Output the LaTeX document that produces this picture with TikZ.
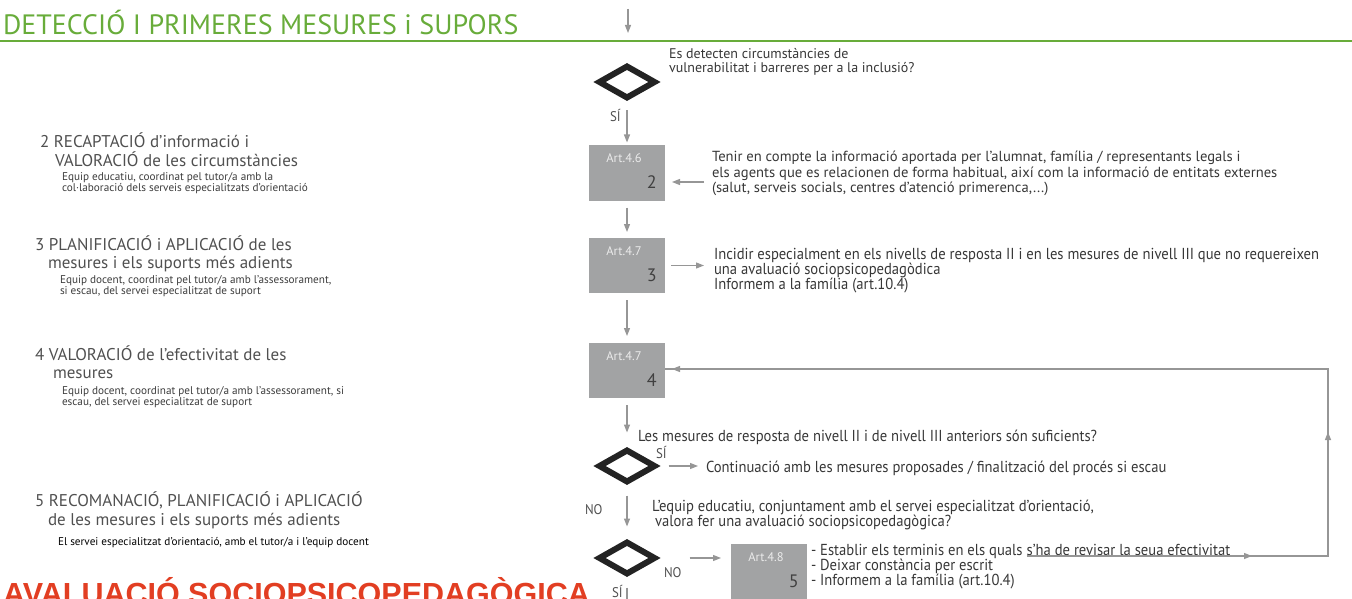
\documentclass[tikz,border=0pt]{standalone}
\usepackage{fontspec}
\setmainfont{PT Sans}
\newfontfamily\condf[FakeStretch=0.92]{PT Sans}
\newfontfamily\redf{Liberation Sans}
\usetikzlibrary{arrows.meta,shapes.geometric,calc}
\definecolor{grn}{RGB}{104,172,58}
\definecolor{redt}{RGB}{226,62,34}
\definecolor{boxgray}{RGB}{162,163,164}
\definecolor{arrgray}{RGB}{150,150,150}
\definecolor{headgray}{RGB}{80,80,80}
\definecolor{smgray}{RGB}{60,60,60}
\definecolor{bodygray}{RGB}{55,55,55}
\definecolor{dia}{RGB}{35,35,35}
\tikzset{
  tl/.style={anchor=base west, inner sep=0, outer sep=0},
  hd/.style={tl, font=\fontsize{17}{20}\selectfont, text=headgray},
  sm/.style={tl, font=\fontsize{11.2}{13}\selectfont, text=smgray},
  bt/.style={tl, font=\fontsize{14.6}{16}\selectfont, text=bodygray},
  ct/.style={tl, font=\condf\fontsize{15.9}{18}\selectfont, text=bodygray},
  lbl/.style={tl, font=\condf\fontsize{14}{16}\selectfont, text=headgray},
  artbox/.style={rectangle, fill=boxgray, minimum width=76, minimum height=55, inner sep=0, outer sep=0},
  arttxt/.style={inner sep=0, font=\fontsize{12.5}{14}\selectfont, text=white!92!black},
  numtxt/.style={inner sep=0, anchor=base east, font=\fontsize{18}{20}\selectfont, text=black!75},
  dmd/.style={diamond, draw=dia, line width=6pt, minimum width=55, minimum height=31, inner sep=0, outer sep=0},
  arr/.style={draw=arrgray, line width=1.3pt, -{Triangle[length=8pt,width=6pt]}},
  fb/.style={draw=arrgray, line width=1.3pt},
}
\begin{document}
\begin{tikzpicture}[x=1pt,y=-1pt]
\useasboundingbox (0,0) rectangle (1352,599);
\clip (0,0) rectangle (1352,599);
% header
\node[tl, font=\fontsize{28}{32}\selectfont, text=grn] (title) at (3,35) {DETECCIÓ I PRIMERES MESURES i SUPORS};
\coordinate (gl0) at (0,41.5);
\coordinate (gl1) at (1352,41.5);
\draw[grn, line width=2pt] (gl0) -- (gl1);
\coordinate (top0) at (628,9);
\coordinate (top1) at (628,33);
\draw[arr] (top0) -- (top1);

% left column
\node[hd] (l2a) at (40,147) {2 RECAPTACIÓ d’informació i};
\node[hd] (l2b) at (55,166) {VALORACIÓ de les circumstàncies};
\node[sm] (l2c) at (62,180) {Equip educatiu, coordinat pel tutor/a amb la};
\node[sm] (l2d) at (62,191) {col·laboració dels serveis especialitzats d’orientació};

\node[hd] (l3a) at (35,250) {3 PLANIFICACIÓ i APLICACIÓ de les};
\node[hd] (l3b) at (48,268) {mesures i els suports més adients};
\node[sm] (l3c) at (60,283) {Equip docent, coordinat pel tutor/a amb l’assessorament,};
\node[sm] (l3d) at (60,294) {si escau, del servei especialitzat de suport};

\node[hd] (l4a) at (35,360) {4 VALORACIÓ de l’efectivitat de les};
\node[hd] (l4b) at (53,378) {mesures};
\node[sm] (l4c) at (62,394) {Equip docent, coordinat pel tutor/a amb l’assessorament, si};
\node[sm] (l4d) at (62,405) {escau, del servei especialitzat de suport};

\node[hd] (l5a) at (35,506) {5 RECOMANACIÓ, PLANIFICACIÓ i APLICACIÓ};
\node[hd] (l5b) at (48,525) {de les mesures i els suports més adients};
\node[sm, text=black] (l5c) at (58,545) {El servei especialitzat d’orientació, amb el tutor/a i l’equip docent};

\node[tl, font=\redf\bfseries\fontsize{30.5}{34}\selectfont, text=redt] (redtitle) at (3,604) {AVALUACIÓ SOCIOPSICOPEDAGÒGICA};

% diamond 1
\node[dmd] (d1) at (627,82) {};
\node[bt, font=\fontsize{14}{16}\selectfont] (q1a) at (669,59) {Es detecten circumstàncies de};
\node[bt, font=\fontsize{14}{16}\selectfont] (q1b) at (669,73) {vulnerabilitat i barreres per a la inclusió?};
\node[lbl] (si1) at (610,122) {SÍ};

% box 2
\node[artbox] (b2) at (627,173) {};
\node[arttxt] (b2a) at ($(b2.north)+(-3,13)$) {Art.4.6};
\node[numtxt] (b2n) at ($(b2.south east)+(-8,-12)$) {2};
\draw[arr, shorten <=13pt, shorten >=3pt] (d1.south) -- (b2.north);
\node[bt] (t2a) at (712,161) {Tenir en compte la informació aportada per l’alumnat, família / representants legals i};
\node[bt] (t2b) at (712,177) {els agents que es relacionen de forma habitual, així com la informació de entitats externes};
\node[bt] (t2c) at (712,193) {(salut, serveis socials, centres d’atenció primerenca,...)};
\coordinate (a2) at (704,182);
\draw[arr, shorten >=7pt] (a2) -- (a2 -| b2.east);

% box 3
\node[artbox] (b3) at (627,265.5) {};
\node[arttxt] (b3a) at ($(b3.north)+(-3,13)$) {Art.4.7};
\node[numtxt] (b3n) at ($(b3.south east)+(-8,-12)$) {3};
\draw[arr, shorten <=7pt, shorten >=6pt] (b2.south) -- (b3.north);
\node[ct] (t3a) at (714,259) {Incidir especialment en els nivells de resposta II i en les mesures de nivell III que no requereixen};
\node[ct] (t3b) at (714,274) {una avaluació sociopsicopedagòdica};
\node[ct] (t3c) at (714,289) {Informem a la família (art.10.4)};
\draw[arr, shorten <=6pt, shorten >=10pt] (b3.east) -- (b3.east -| t3a.west);

% box 4
\node[artbox] (b4) at (627,370.5) {};
\node[arttxt] (b4a) at ($(b4.north)+(-3,13)$) {Art.4.7};
\node[numtxt] (b4n) at ($(b4.south east)+(-8,-12)$) {4};
\draw[arr, shorten <=7pt, shorten >=7pt] (b3.south) -- (b4.north);

% diamond 2
\node[dmd] (d2) at (627,466) {};
\draw[arr, shorten <=7pt, shorten >=18pt] (b4.south) -- (d2.north);
\node[ct] (q2) at (638,441) {Les mesures de resposta de nivell II i de nivell III anteriors són suficients?};
\node[lbl] (si2) at (656,458) {SÍ};
\node[ct] (cont) at (706,472) {Continuació amb les mesures proposades / finalització del procés si escau};
\draw[arr, shorten <=14pt, shorten >=8pt] (d2.east) -- (d2.east -| cont.west);
\node[lbl] (no2) at (585,514) {NO};

% diamond 3
\node[dmd] (d3) at (627,558) {};
\draw[arr, shorten <=14pt, shorten >=16pt] (d2.south) -- (d3.north);
\node[ct] (q3a) at (652,511) {L’equip educatiu, conjuntament amb el servei especialitzat d’orientació,};
\node[ct] (q3b) at (655,526) {valora fer una avaluació sociopsicopedagògica?};
\node[lbl] (no3) at (664,577) {NO};
\node[lbl] (si3) at (612,597) {SÍ};
\draw[fb, shorten <=14pt] (d3.south) -- ++(0,40);

% box 5
\node[artbox] (b5) at (769,571.5) {};
\node[arttxt] (b5a) at ($(b5.north)+(-3,13)$) {Art.4.8};
\node[numtxt] (b5n) at ($(b5.south east)+(-8,-12)$) {5};
\draw[arr, shorten <=35pt, shorten >=10pt] (d3.east) -- (d3.east -| b5.west);
\node[ct] (t5a) at (811,555) {- Establir els terminis en els quals};
\node[ct, anchor=base west] (t5b) at ($(t5a.base east)+(4,0)$) {s’ha de revisar la seua efectivitat};
\node[ct] (t5c) at (811,570) {- Deixar constància per escrit};
\node[ct] (t5d) at (811,585) {- Informem a la família (art.10.4)};

% feedback loop
\coordinate (fb0) at ($(t5b.base west)+(0,1)$);
\coordinate (fb1) at (1328,0 |- fb0);
\coordinate (fb2) at (1328,369);
\draw[fb] (fb0) -- (fb1) -- (fb2) -- (fb2 -| b4.east);
\draw[arr, shorten >=7pt] ($(fb2)+(-20,0)$) -- (fb2 -| b4.east);
\draw[arr] ($(fb1)+(-90,0)$) -- ($(fb1)+(-76,0)$);
\draw[arr] ($(fb1)+(0,-112)$) -- ($(fb1)+(0,-124)$);
\end{tikzpicture}
\end{document}
